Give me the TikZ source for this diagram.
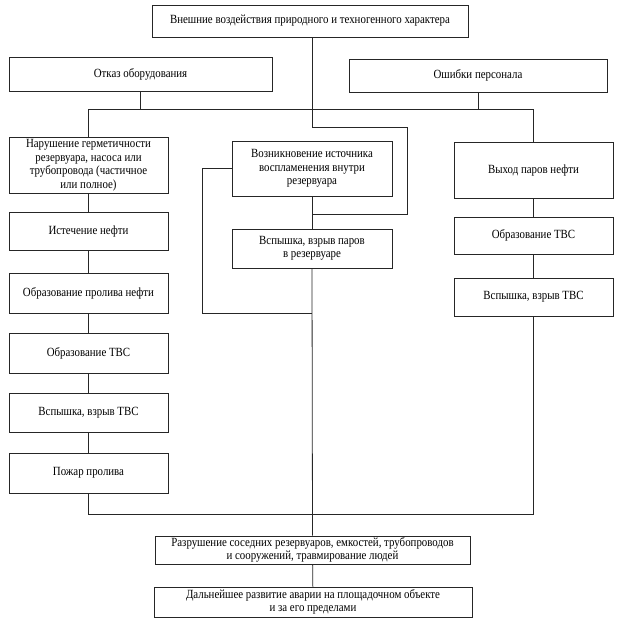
\documentclass[tikz,border=0pt]{standalone}
\usepackage{fontspec}
\setmainfont{Liberation Serif}[FakeStretch=0.87]
\begin{document}
\begin{tikzpicture}[x=1pt,y=-1pt,
  box/.style={draw=black!85, line width=0.8pt, rectangle, align=center, inner sep=1pt,
    font=\fontsize{12.5}{13.5}\selectfont},
  conn/.style={draw=black!85, line width=0.8pt}]
\useasboundingbox (0,0) rectangle (620,624);
% boxes
\node[box, minimum width=316pt, minimum height=32pt] (top) at (310,21) {Внешние воздействия природного и техногенного характера};
\node[box, minimum width=263pt, minimum height=34pt] (otkaz) at (140.5,74) {Отказ оборудования};
\node[box, minimum width=258pt, minimum height=33pt] (oshib) at (478,75.5) {Ошибки персонала};
\node[box, minimum width=159pt, minimum height=56pt] (nar) at (88.5,165) {Нарушение герметичности\\резервуара, насоса или\\трубопровода (частичное\\или полное)};
\node[box, minimum width=159pt, minimum height=38pt] (ist) at (88.5,231) {Истечение нефти};
\node[box, minimum width=159pt, minimum height=40pt] (obrpr) at (88.5,293) {Образование пролива нефти};
\node[box, minimum width=159pt, minimum height=40pt] (obrtvsA) at (88.5,353) {Образование ТВС};
\node[box, minimum width=159pt, minimum height=39pt] (vspA) at (88.5,412.5) {Вспышка, взрыв ТВС};
\node[box, minimum width=159pt, minimum height=40pt] (pozhar) at (88.5,473) {Пожар пролива};
\node[box, minimum width=160pt, minimum height=55pt] (voz) at (312,168.5) {Возникновение источника\\воспламенения внутри\\резервуара};
\node[box, minimum width=160pt, minimum height=39pt] (vsppar) at (312,248.5) {Вспышка, взрыв паров\\в резервуаре};
\node[box, minimum width=159pt, minimum height=56pt] (vyhod) at (533.5,170) {Выход паров нефти};
\node[box, minimum width=159pt, minimum height=37pt] (obrtvsB) at (533.5,235.5) {Образование ТВС};
\node[box, minimum width=159pt, minimum height=38pt] (vspB) at (533.5,297) {Вспышка, взрыв ТВС};
\node[box, minimum width=315pt, minimum height=28pt] (razr) at (312.5,550) {Разрушение соседних резервуаров, емкостей, трубопроводов\\и сооружений, травмирование людей};
\node[box, minimum width=318pt, minimum height=30pt] (dal) at (313,602) {Дальнейшее развитие аварии на площадочном объекте\\и за его пределами};
% coordinates
\coordinate (busL) at (88.5,109);
\coordinate (busR) at (533.5,109);
\coordinate (jA) at (312,214);
\coordinate (jB) at (312,313);
\coordinate (botL) at (88.5,514);
\coordinate (botR) at (533.5,514);
\coordinate (botM) at (312,514);
% connectors
\draw[conn] (top.south -| jA) |- (407,127) |- (jA);
\draw[conn] (otkaz.south) -- (otkaz.south |- busL);
\draw[conn] (oshib.south) -- (oshib.south |- busR);
\draw[conn] (nar.north) -- (busL) -- (busR) -- (vyhod.north);
\draw[conn] (nar) -- (ist);
\draw[conn] (ist) -- (obrpr);
\draw[conn] (obrpr) -- (obrtvsA);
\draw[conn] (obrtvsA) -- (vspA);
\draw[conn] (vspA) -- (pozhar);
\draw[conn] (pozhar.south) -- (botL) -- (botR) -- (vspB.south);
\draw[conn] (voz) -- (vsppar);
\draw[conn] (voz.west) -| (202,313) -- (jB);
\draw[conn] (vsppar.south) -- (razr.north);
\draw[conn] (vyhod) -- (obrtvsB);
\draw[conn] (obrtvsB) -- (vspB);
\draw[conn] (razr) -- (dal);
\end{tikzpicture}
\end{document}
